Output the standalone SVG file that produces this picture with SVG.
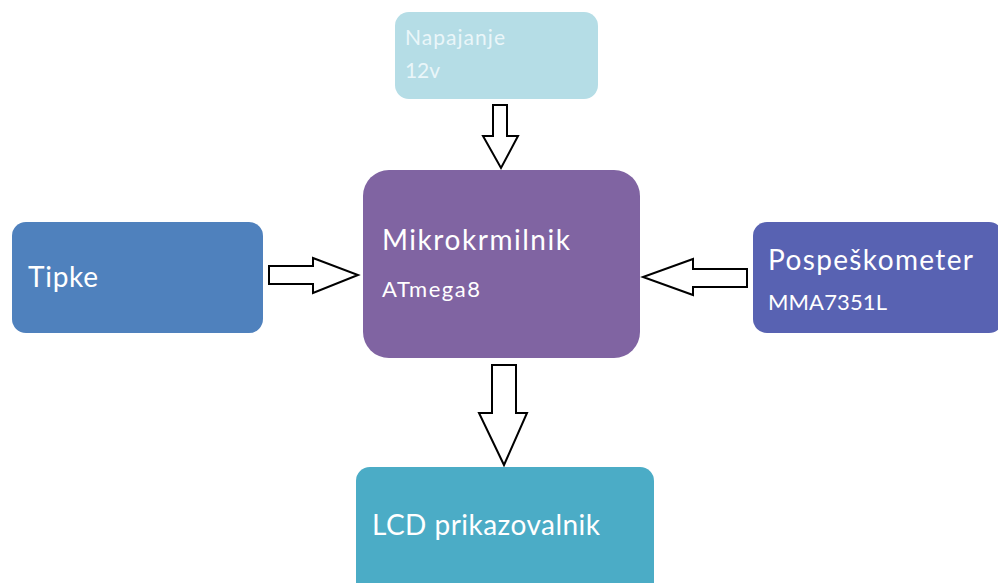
<svg xmlns="http://www.w3.org/2000/svg" width="998" height="583" viewBox="0 0 998 583">
<style>
text{font-family:Lato,"Open Sans","Liberation Sans",sans-serif;fill:#ffffff}
.big{font-size:28px}
.small{font-size:22px}
.tiny{font-size:21px;fill:#eaf6f9}
.arrow{fill:#ffffff;stroke:#000000;stroke-width:2;stroke-linejoin:miter}
</style>
<rect width="998" height="583" fill="#ffffff"/>
<g id="connectors">
<polygon class="arrow" points="493,105 507,105 507,136 518,136 501,168 483,136 493,136"/>
<polygon class="arrow" points="269,266 313,266 313,258 358,275 313,293 313,284 269,284"/>
<polygon class="arrow" points="747,269 693,269 693,259 643,277 693,295 693,287 747,287"/>
<polygon class="arrow" points="492,365 516,365 516,413 527,413 504,465 479,413 492,413"/>
</g>
<g id="napajanje">
<rect x="395" y="12" width="203" height="87" rx="14" fill="#b5dde6"/>
<text class="tiny" x="405" y="45" textLength="100" lengthAdjust="spacing">Napajanje</text>
<text class="tiny" x="405" y="78" textLength="35" lengthAdjust="spacing">12v</text>
</g>
<g id="mikrokrmilnik">
<rect x="363" y="170" width="277" height="188" rx="26" fill="#8064a2"/>
<text class="big" x="382" y="250" textLength="188" lengthAdjust="spacing">Mikrokrmilnik</text>
<text class="small" x="382" y="297" textLength="98" lengthAdjust="spacing">ATmega8</text>
</g>
<g id="tipke">
<rect x="12" y="222" width="251" height="111" rx="14" fill="#4f81bd"/>
<text class="big" x="28" y="287" textLength="70" lengthAdjust="spacing">Tipke</text>
</g>
<g id="pospeskometer">
<rect x="753" y="222" width="250" height="111" rx="14" fill="#5862b2"/>
<text class="big" x="768" y="270" textLength="205" lengthAdjust="spacing">Pospeškometer</text>
<text class="small" x="768" y="310" textLength="119" lengthAdjust="spacing">MMA7351L</text>
</g>
<g id="lcd">
<rect x="356" y="467" width="298" height="130" rx="14" fill="#4bacc6"/>
<text class="big" x="372" y="535" textLength="228" lengthAdjust="spacing">LCD prikazovalnik</text>
</g>
</svg>
